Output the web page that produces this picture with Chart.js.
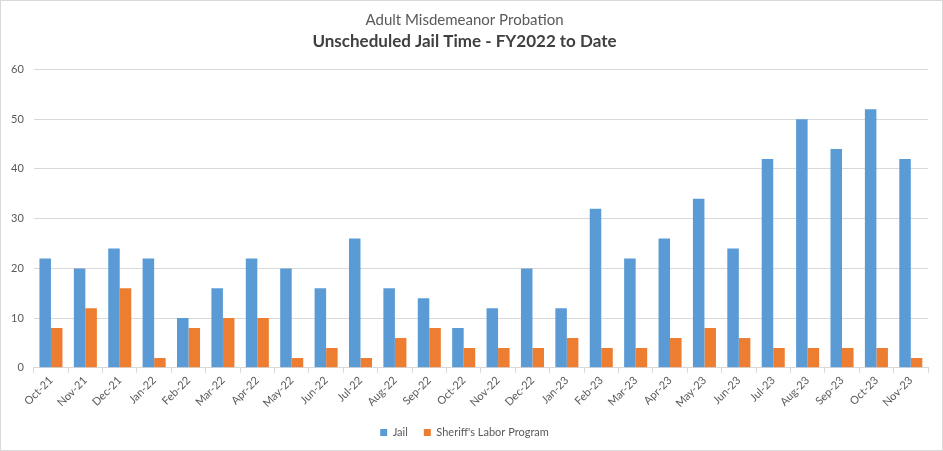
<!DOCTYPE html>
<html><head><meta charset="utf-8">
<script src="https://cdn.jsdelivr.net/npm/chart.js@4"></script>
<style>
html,body{margin:0;padding:0;background:#fff;}
#wrap{position:absolute;left:0;top:0;width:941px;height:449px;border:1px solid #d9d9d9;}
canvas{display:block;}
</style></head><body>
<div id="wrap"><canvas id="c" width="941" height="449"></canvas></div>
<script>
const categories = ["Oct-21","Nov-21","Dec-21","Jan-22","Feb-22","Mar-22","Apr-22","May-22","Jun-22","Jul-22","Aug-22","Sep-22","Oct-22","Nov-22","Dec-22","Jan-23","Feb-23","Mar-23","Apr-23","May-23","Jun-23","Jul-23","Aug-23","Sep-23","Oct-23","Nov-23"];
const jail = [22,20,24,22,10,16,22,20,16,26,16,14,8,12,20,12,32,22,26,34,24,42,50,44,52,42];
const sheriff = [8,12,16,2,8,10,10,2,4,2,6,8,4,4,4,6,4,4,6,8,6,4,4,4,4,2];
const seriesNames = ["Jail","Sheriff's Labor Program"];
const titleText = "Adult Misdemeanor Probation";
const subtitleText = "Unscheduled Jail Time - FY2022 to Date";

const FONT = "Lato, 'Open Sans', sans-serif";
const GREY = "#595959";
new Chart(document.getElementById('c'), {
  type: 'bar',
  data: {
    labels: categories,
    datasets: [
      {label: seriesNames[0], data: jail, backgroundColor: '#5b9bd5', categoryPercentage: 0.67, barPercentage: 1.0},
      {label: seriesNames[1], data: sheriff, backgroundColor: '#ed7d31', categoryPercentage: 0.67, barPercentage: 1.0}
    ]
  },
  options: {
    responsive: false,
    animation: false,
    layout: {padding: {left: 0, right: 14, top: 6, bottom: 2}},
    plugins: {
      title: {display: true, text: titleText, color: GREY, font: {family: FONT, size: 15, weight: 'normal'}, padding: {top: 4, bottom: 2}},
      subtitle: {display: true, text: subtitleText, color: '#404040', font: {family: FONT, size: 17, weight: 'bold'}, padding: {bottom: 18}},
      legend: {position: 'bottom', labels: {boxWidth: 7, boxHeight: 7, color: GREY, font: {family: FONT, size: 11}, padding: 16}},
      tooltip: {enabled: false}
    },
    scales: {
      x: {
        grid: {display: true, drawOnChartArea: false, color: '#d9d9d9', tickLength: 5, offset: true},
        border: {color: '#d9d9d9'},
        ticks: {color: GREY, font: {family: FONT, size: 11}, maxRotation: 45, minRotation: 45, padding: 1}
      },
      y: {
        min: 0, max: 60,
        ticks: {stepSize: 10, color: GREY, font: {family: FONT, size: 11}, padding: 10},
        grid: {color: '#d9d9d9', drawTicks: false},
        border: {display: false}
      }
    }
  }
});
</script>
</body></html>
